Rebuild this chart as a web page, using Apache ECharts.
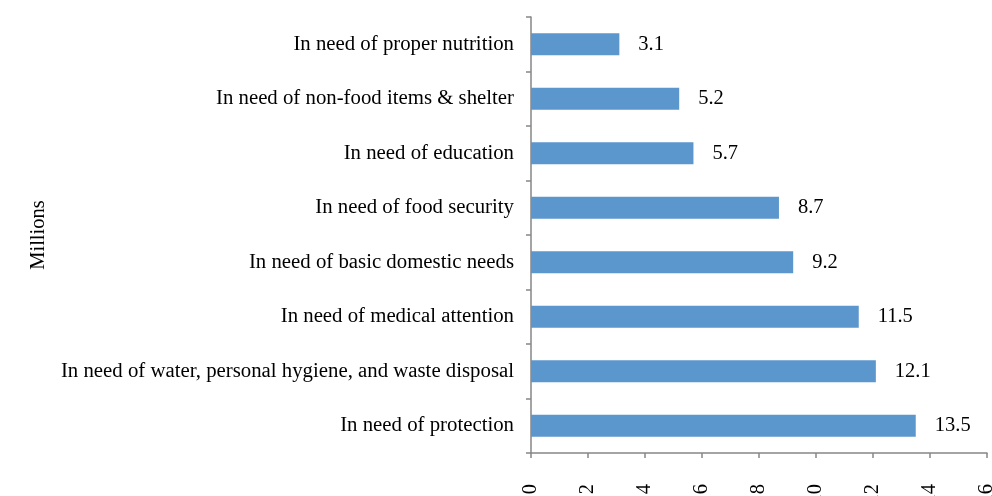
<!DOCTYPE html>
<html>
<head>
<meta charset="utf-8">
<script src="https://cdn.jsdelivr.net/npm/echarts@6/dist/echarts.min.js"></script>
<style>
  html, body { margin: 0; padding: 0; background: #fff; }
  #chart { width: 992px; height: 496px; }
</style>
</head>
<body>
<div id="chart"></div>
<script>
var myChart = echarts.init(document.getElementById('chart'));

var categories = [
    'In need of proper nutrition',
    'In need of non-food items & shelter',
    'In need of education',
    'In need of food security',
    'In need of basic domestic needs',
    'In need of medical attention',
    'In need of water, personal hygiene, and waste disposal',
    'In need of protection'
];
var values = [3.1, 5.2, 5.7, 8.7, 9.2, 11.5, 12.1, 13.5];

var axisGray = '#868686';
var font = 'Liberation Serif';

option = {
    backgroundColor: '#fff',
    grid: { left: 531, right: 5, top: 17, bottom: 43, outerBoundsMode: 'none', containLabel: false },
    xAxis: {
        type: 'value',
        min: 0,
        max: 16,
        interval: 2,
        splitLine: { show: false },
        axisLine: { show: true, lineStyle: { color: axisGray, width: 1.5 } },
        axisTick: { show: true, length: 5, lineStyle: { color: axisGray, width: 1.5 } },
        axisLabel: {
            rotate: 90,
            margin: 31,
            color: '#000',
            fontFamily: font,
            fontSize: 20.5
        }
    },
    yAxis: {
        type: 'category',
        inverse: true,
        data: categories,
        name: 'Millions',
        nameLocation: 'middle',
        nameGap: 482,
        nameRotate: 90,
        nameTextStyle: { color: '#000', fontFamily: font, fontSize: 20.5 },
        axisLine: { show: true, lineStyle: { color: axisGray, width: 1.5 } },
        axisTick: { show: true, length: 5, lineStyle: { color: axisGray, width: 1.5 } },
        axisLabel: {
            margin: 17,
            padding: [4, 0, 0, 0],
            color: '#000',
            fontFamily: font,
            fontSize: 20.8
        }
    },
    series: [{
        type: 'bar',
        data: values,
        barWidth: 22,
        itemStyle: { color: '#5b96cd' },
        label: {
            show: true,
            position: 'right',
            distance: 19,
            color: '#000',
            fontFamily: font,
            fontSize: 20.5
        }
    }]
};

myChart.setOption(option);
</script>
</body>
</html>
